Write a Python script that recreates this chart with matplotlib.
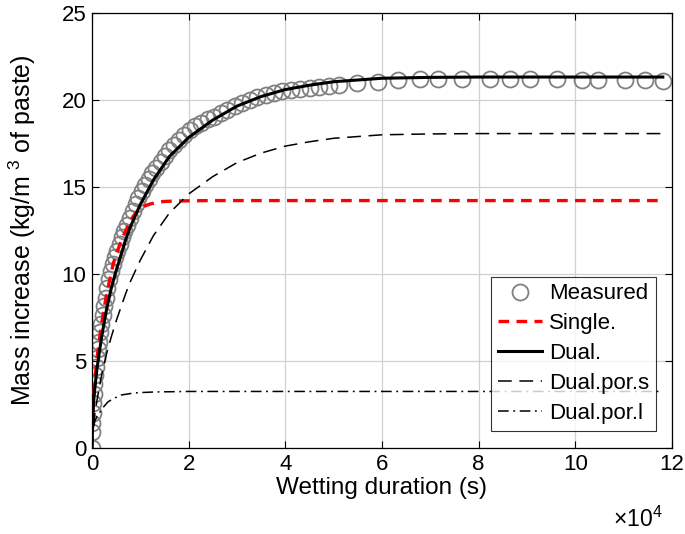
import numpy as np
import matplotlib
matplotlib.use("Agg")
import matplotlib.pyplot as plt

plt.rcParams["font.family"] = ["Liberation Sans", "DejaVu Sans"]
plt.rcParams["mathtext.fontset"] = "custom"
plt.rcParams["mathtext.rm"] = "Liberation Sans"
plt.rcParams["mathtext.default"] = "regular"

# wetting time in units of 1e4 s, mass increase in kg/m^3 of paste
t_meas = [0, 0.003, 0.008, 0.015, 0.025, 0.035, 0.05, 0.065, 0.08, 0.10,
          0.12, 0.14, 0.165, 0.19, 0.22, 0.25, 0.28, 0.32, 0.36, 0.40,
          0.44, 0.48, 0.52, 0.57, 0.62, 0.67, 0.72, 0.78, 0.84, 0.90,
          0.96, 1.03, 1.10, 1.17, 1.25, 1.33, 1.42, 1.51, 1.60, 1.70,
          1.80, 1.91, 2.02, 2.14, 2.26, 2.39, 2.52, 2.66, 2.80, 2.95,
          3.10, 3.26, 3.42, 3.59, 3.76, 3.94, 4.12, 4.30, 4.50, 4.70,
          4.90, 5.10, 5.48, 5.92, 6.33, 6.78, 7.16, 7.65, 8.23, 8.65,
          9.06, 9.62, 10.13, 10.47, 11.02, 11.44, 11.81]
y_meas = [0, 0.9, 1.45, 2.0, 2.6, 3.1, 3.7, 4.2, 4.65, 5.2,
          5.7, 6.1, 6.65, 7.1, 7.65, 8.15, 8.6, 9.2, 9.7, 10.15,
          10.55, 10.95, 11.3, 11.7, 12.1, 12.45, 12.8, 13.2, 13.6, 14.0,
          14.35, 14.75, 15.1, 15.45, 15.8, 16.1, 16.45, 16.8, 17.1, 17.4,
          17.7, 18.0, 18.25, 18.5, 18.7, 18.9, 19.05, 19.25, 19.45, 19.65,
          19.85, 20.0, 20.15, 20.3, 20.4, 20.5, 20.6, 20.65, 20.7, 20.75,
          20.8, 20.85, 21.0, 21.05, 21.15, 21.2, 21.2, 21.2, 21.2, 21.2,
          21.2, 21.2, 21.15, 21.15, 21.15, 21.15, 21.1]

t_single = [0, 0.02, 0.05, 0.10, 0.20, 0.30, 0.44, 0.55, 0.65, 0.75, 0.85,
            0.92, 1.00, 1.10, 1.20, 1.35, 1.50, 1.80, 2.50, 11.81]
y_single = [0, 2.2, 3.6, 5.1, 7.2, 8.8, 10.6, 11.5, 12.2, 12.8, 13.3,
            13.55, 13.75, 13.92, 14.02, 14.12, 14.17, 14.2, 14.22, 14.22]

t_dual = [0, 0.01, 0.03, 0.05, 0.10, 0.20, 0.30, 0.40, 0.50, 0.60, 0.70,
          0.80, 1.00, 1.27, 1.60, 2.00, 2.50, 3.00, 3.50, 4.00, 4.50, 5.00,
          6.00, 7.00, 8.00, 11.81]
y_dual = [0, 1.3, 2.5, 3.2, 4.5, 6.4, 7.95, 9.2, 10.2, 11.1, 12.0,
          12.75, 14.0, 15.4, 16.75, 17.85, 18.85, 19.65, 20.2, 20.6, 20.85,
          21.05, 21.25, 21.3, 21.32, 21.32]

t_por_s = [0, 0.01, 0.02, 0.05, 0.10, 0.20, 0.30, 0.40, 0.50, 0.60, 0.70,
           0.80, 1.00, 1.27, 1.60, 2.00, 2.50, 3.00, 3.50, 4.00, 4.50, 5.00,
           6.00, 7.00, 8.00, 11.81]
y_por_s = [0, 0.6, 1.0, 1.8, 2.7, 4.2, 5.4, 6.4, 7.3, 8.1, 8.9,
           9.6, 10.8, 12.2, 13.5, 14.6, 15.6, 16.4, 16.95, 17.35, 17.6, 17.8,
           18.0, 18.05, 18.07, 18.07]

t_por_l = [0, 0.01, 0.03, 0.06, 0.10, 0.16, 0.25, 0.33, 0.45, 0.61, 0.80,
           0.95, 1.30, 2.00, 11.81]
y_por_l = [0, 0.7, 1.2, 1.55, 1.8, 2.05, 2.4, 2.65, 2.85, 3.05, 3.13,
           3.18, 3.22, 3.25, 3.25]

fig = plt.figure(figsize=(6.85, 5.34), dpi=100)
ax = fig.add_axes([92 / 685, 86 / 534, 580 / 685, 435 / 534])

ax.plot(t_meas, y_meas, "o", ms=11.5, mfc="none", mec="#808080", mew=1.3,
        label="Measured", zorder=2)
ax.plot(t_single, y_single, "--", color="red", lw=2.4, dashes=(3.2, 2.2),
        label="Single.", zorder=3)
ax.plot(t_dual, y_dual, "-", color="black", lw=2.2, label="Dual.", zorder=4)
ax.plot(t_por_s, y_por_s, "--", color="black", lw=1.1, dashes=(9, 5),
        label="Dual.por.s", zorder=3)
ax.plot(t_por_l, y_por_l, "-.", color="black", lw=1.1, dashes=(7, 3, 1.2, 3),
        label="Dual.por.l", zorder=3)

ax.set_xlim(0, 12)
ax.set_ylim(0, 25)
ax.set_xticks(np.arange(0, 13, 2))
ax.set_yticks(np.arange(0, 26, 5))
ax.grid(True, color="#d0d0d0", lw=0.9)
ax.set_axisbelow(True)
ax.tick_params(direction="in", length=5, width=0.8, labelsize=16,
               top=True, right=True, pad=4)
for s in ax.spines.values():
    s.set_linewidth(0.9)

ax.set_xlabel("Wetting duration (s)", fontsize=17.5)
ax.xaxis.set_label_coords(0.5, -0.066)
ax.set_ylabel("Mass increase (kg/m$^{\\,\\,3}$ of paste)", fontsize=18)
ax.yaxis.set_label_coords(-0.093, 0.5)
ax.text(0.983, -0.163, "×10$^{4}$", transform=ax.transAxes, ha="right",
        va="center", fontsize=16.5)

leg = ax.legend(loc="lower right", bbox_to_anchor=(0.972, 0.04), fontsize=16,
                frameon=True, fancybox=False, edgecolor="black",
                handlelength=2.0, handletextpad=0.3, borderpad=0.3,
                labelspacing=0.4, borderaxespad=0)
leg.get_frame().set_linewidth(0.8)

fig.savefig("out.png", dpi=100)
